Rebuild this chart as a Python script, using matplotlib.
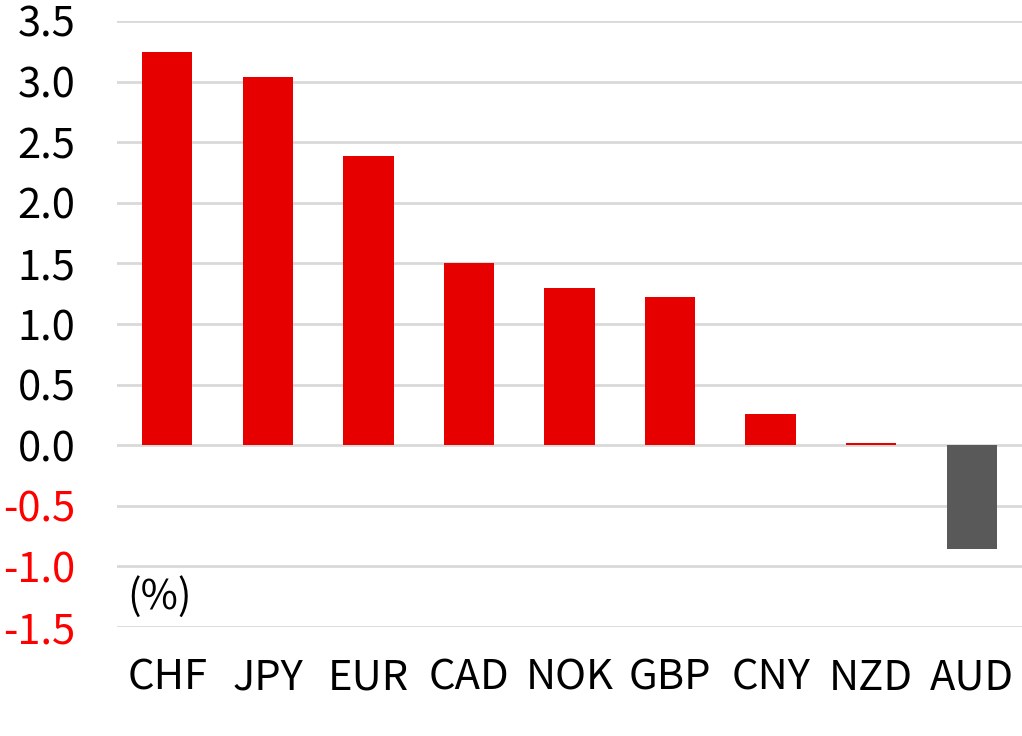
import matplotlib
matplotlib.use("Agg")
import matplotlib.pyplot as plt

plt.rcParams['font.family'] = ['Noto Sans CJK KR', 'DejaVu Sans']

currencies = ['CHF', 'JPY', 'EUR', 'CAD', 'NOK', 'GBP', 'CNY', 'NZD', 'AUD']
changes = [3.24, 3.04, 2.39, 1.50, 1.30, 1.22, 0.26, 0.015, -0.86]
yticks = [-1.5, -1.0, -0.5, 0.0, 0.5, 1.0, 1.5, 2.0, 2.5, 3.0, 3.5]

red = '#E60000'
grey = '#595959'
colors = [red if v >= 0 else grey for v in changes]

fig = plt.figure(figsize=(10.22, 7.36), dpi=100)
ax = fig.add_axes([0.1145, 0.148, 0.8855, 0.8235])

ax.bar(range(len(currencies)), changes, width=0.5, color=colors, zorder=3)

ax.set_xlim(-0.5, len(currencies) - 0.5)
ax.set_ylim(-1.5, 3.5)
ax.set_yticks(yticks)
ax.set_yticklabels(['{0:.1f}'.format(t) for t in yticks])
for lbl, t in zip(ax.get_yticklabels(), yticks):
    lbl.set_color('#FF0000' if t < 0 else 'black')
ax.set_xticks(range(len(currencies)))
ax.set_xticklabels(currencies)

ax.tick_params(axis='y', length=0, labelsize=30, pad=30)
ax.tick_params(axis='x', length=0, labelsize=30, pad=22)
ax.grid(axis='y', color='#d9d9d9', linewidth=2, zorder=0)
for s in ax.spines.values():
    s.set_visible(False)

ax.text(-0.4, -1.25, '(%)', fontsize=29, va='center', ha='left')

fig.savefig('out.png', dpi=100)
